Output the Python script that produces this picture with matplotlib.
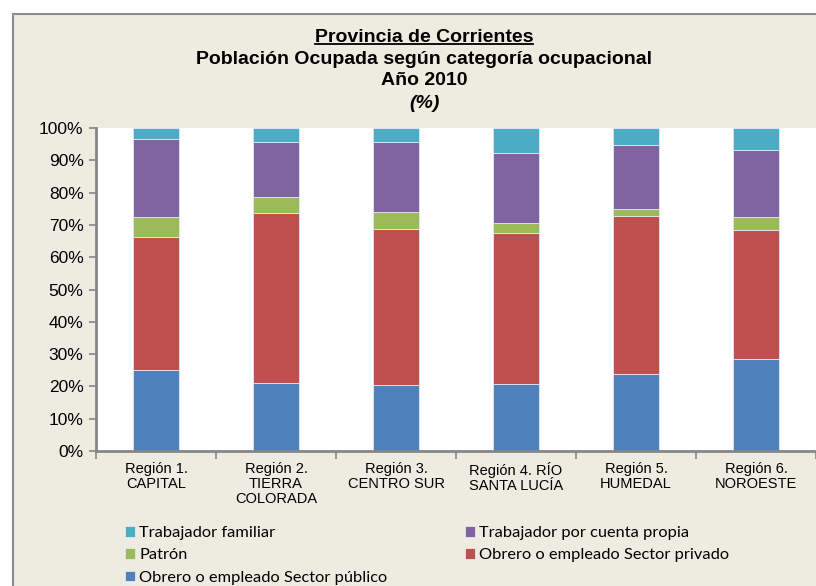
import matplotlib
matplotlib.use("Agg")
import matplotlib.pyplot as plt
from matplotlib.patches import Rectangle
from matplotlib.lines import Line2D
import numpy as np

regiones = ["Región 1.\nCAPITAL", "Región 2.\nTIERRA\nCOLORADA", "Región 3.\nCENTRO SUR",
            "Región 4. RÍO\nSANTA LUCÍA", "Región 5.\nHUMEDAL", "Región 6.\nNOROESTE"]

publico = [25.1, 21.1, 20.4, 20.8, 23.8, 28.4]
privado = [41.2, 52.7, 48.2, 46.8, 49.0, 40.1]
patron = [6.0, 4.7, 5.4, 3.1, 2.1, 3.8]
propia = [24.4, 17.3, 21.8, 21.5, 19.9, 20.8]
familiar = [3.3, 4.2, 4.2, 7.8, 5.2, 6.9]

series = [
    ("Obrero o empleado Sector público", publico, "#4F81BD"),
    ("Obrero o empleado Sector privado", privado, "#C0504D"),
    ("Patrón", patron, "#9BBB59"),
    ("Trabajador por cuenta propia", propia, "#8064A2"),
    ("Trabajador familiar", familiar, "#4BACC6"),
]

plt.rcParams['font.family'] = ['Liberation Sans', 'DejaVu Sans']

fig = plt.figure(figsize=(8.16, 5.86), dpi=100)
fig.patch.set_facecolor("white")

# beige chart box (right and bottom edges are cut off in the original)
fig.patches.append(Rectangle((13 / 816, -0.1), 1.2, (586 - 14) / 586 + 0.1,
                             transform=fig.transFigure, fc="#EEECE1",
                             ec="#8C8C8C", lw=1.5, zorder=-5))

ax = fig.add_axes([96 / 816, (586 - 451) / 586, 1 - 96 / 816, (451 - 128) / 586])
ax.set_facecolor("white")

x = np.arange(len(regiones))
bottom = np.zeros(len(regiones))
handles = {}
for name, vals, col in series:
    b = ax.bar(x, vals, 0.39, bottom=bottom, color=col, edgecolor="#E4E8F0",
               linewidth=0.6, label=name)
    handles[name] = b
    bottom += np.array(vals)

ax.set_xlim(-0.5, len(regiones) - 0.5)
ax.set_ylim(0, 100)
ax.set_yticks(np.arange(0, 101, 10))
ax.set_yticklabels([f"{v}%" for v in range(0, 101, 10)], fontsize=12.5)
ax.set_xticks(x)
ax.set_xticklabels(regiones, fontsize=10.5, linespacing=1.1)
ax.set_xticks(np.arange(-0.5, len(regiones)), minor=True)
ax.tick_params(axis="x", which="major", length=0, pad=8)
ax.tick_params(axis="x", which="minor", length=6, color="#868686", width=1.2)
ax.tick_params(axis="y", length=5, color="#868686", width=1.2, pad=4)

for s in ["top", "right"]:
    ax.spines[s].set_visible(False)
ax.spines["left"].set_color("#868686")
ax.spines["left"].set_linewidth(2)
ax.spines["bottom"].set_color("#868686")
ax.spines["bottom"].set_linewidth(2)

cx = 424 / 816
t1 = fig.text(cx, 1 - 37 / 586, "Provincia de Corrientes", ha="center", va="center",
              fontsize=14, fontweight="bold")
fig.text(cx, 1 - 59 / 586, "Población Ocupada según categoría ocupacional", ha="center",
         va="center", fontsize=14, fontweight="bold")
fig.text(cx, 1 - 81 / 586, "Año 2010", ha="center", va="center", fontsize=14,
         fontweight="bold")
fig.text(cx, 1 - 103 / 586, "(%)", ha="center", va="center", fontsize=14,
         fontweight="bold", style="italic")

# underline the first title line
fig.canvas.draw()
bb = t1.get_window_extent().transformed(fig.transFigure.inverted())
fig.lines.append(Line2D([bb.x0, bb.x1], [bb.y0 + 0.002, bb.y0 + 0.002],
                        transform=fig.transFigure, color="black", lw=1.3))

order = ["Trabajador familiar", "Patrón", "Obrero o empleado Sector público",
         "Trabajador por cuenta propia", "Obrero o empleado Sector privado"]
leg = fig.legend([handles[n] for n in order], order, ncol=2, loc="upper left",
                 bbox_to_anchor=(117 / 816, 1 - 518 / 586), frameon=False,
                 prop={"family": "Lato", "size": 11.8}, handlelength=0.6,
                 handleheight=0.6, handletextpad=0.25, columnspacing=4.75,
                 labelspacing=0.5, borderpad=0)

fig.savefig("out.png", dpi=100, facecolor=fig.get_facecolor())
